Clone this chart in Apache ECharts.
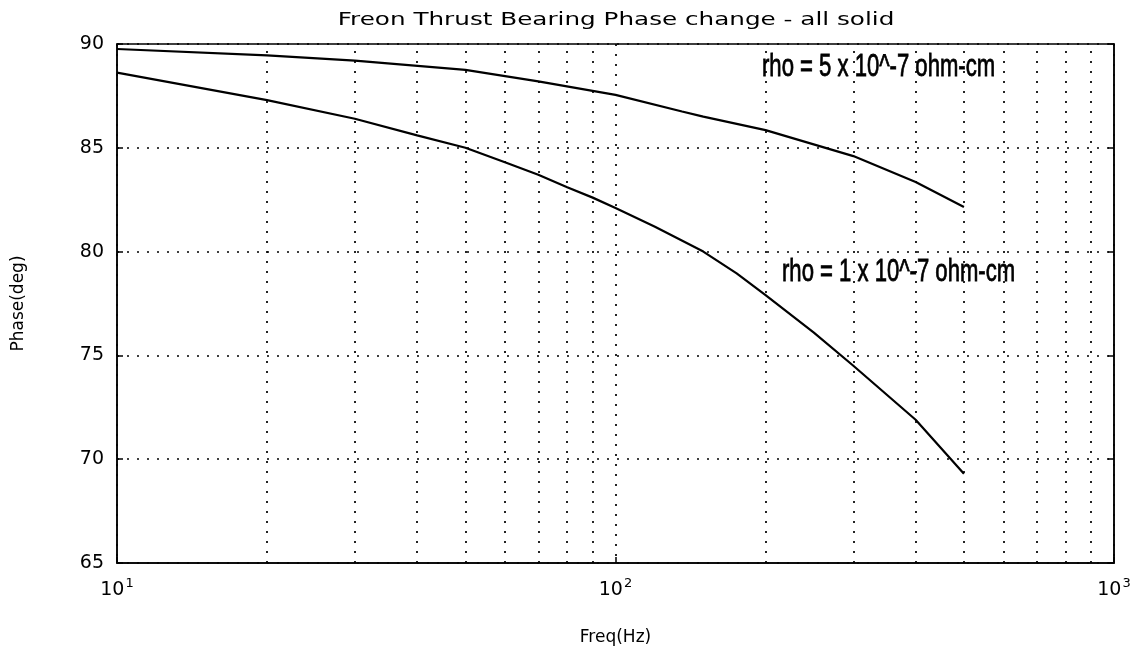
<!DOCTYPE html>
<html>
<head>
<meta charset="utf-8">
<script src="https://cdn.jsdelivr.net/npm/echarts@6/dist/echarts.min.js"></script>
<style>
  html, body { margin: 0; padding: 0; background: #fff; }
  #chart { width: 1135px; height: 647px; }
</style>
</head>
<body>
<div id="chart"></div>
<script>
// 频率 (Hz) 与相位 (deg)
const freqHigh = [10, 20, 30, 50, 70, 100, 136, 150, 200, 300, 400, 500]
const phaseHigh = [89.76, 89.45, 89.2, 88.75, 88.2, 87.55, 86.75, 86.5, 85.85, 84.6, 83.35, 82.15]

const freqLow = [10, 20, 30, 40, 50, 60, 70, 80, 90, 100, 120, 150, 175, 200, 250, 300, 400, 500]
const phaseLow = [88.62, 87.3, 86.4, 85.6, 85.0, 84.3, 83.7, 83.1, 82.6, 82.1, 81.2, 80.0, 78.95, 77.9, 76.1, 74.5, 71.9, 69.3]

// 次网格线位置
const minorGrid = [20, 30, 40, 50, 60, 70, 80, 90, 200, 300, 400, 500, 600, 700, 800, 900]

const labelHigh = 'rho = 5 x 10^-7 ohm-cm'
const labelLow = 'rho = 1 x 10^-7 ohm-cm'
const titleText = 'Freon Thrust Bearing Phase change - all solid'

const dotted = { color: '#000', width: 1.7, type: [2, 8] }
const supers = { 1: '1', 2: '2', 3: '3' }

const chart = echarts.init(document.getElementById('chart'))

const option = {
  backgroundColor: '#fff',
  animation: false,
  grid: {
    left: 117, right: 21, top: 44, bottom: 84,
    outerBoundsMode: 'none',
    show: true, borderColor: '#000', borderWidth: 1.5
  },
  xAxis: {
    type: 'log',
    logBase: 10,
    min: 10,
    max: 1000,
    name: 'Freq(Hz)',
    nameLocation: 'middle',
    nameGap: 66,
    nameTextStyle: { color: '#000', fontSize: 17, fontFamily: 'DejaVu Sans' },
    axisLine: { show: true, lineStyle: { color: '#000', width: 1.5 } },
    axisTick: { show: true, inside: true, length: 6, lineStyle: { color: '#000', width: 1.5 } },
    splitLine: { show: true, lineStyle: dotted },
    axisLabel: {
      margin: 12,
      formatter: v => {
        const e = Math.round(Math.log10(v))
        return '{b|10}{s|' + (supers[e] || e) + '}'
      },
      rich: {
        b: { fontSize: 19, fontFamily: 'DejaVu Sans', color: '#000', padding: [6, 0, 0, 0] },
        s: { fontSize: 13, fontFamily: 'DejaVu Sans', color: '#000', padding: [0, 0, 8, 1] }
      }
    }
  },
  yAxis: [{
    type: 'value',
    min: 65,
    max: 90,
    interval: 5,
    name: 'Phase(deg)',
    nameLocation: 'middle',
    nameGap: 90,
    nameTextStyle: { color: '#000', fontSize: 17, fontFamily: 'DejaVu Sans' },
    axisLine: { show: true, lineStyle: { color: '#000', width: 1.5 } },
    axisTick: { show: true, inside: true, length: 6, lineStyle: { color: '#000', width: 1.5 } },
    splitLine: { show: true, lineStyle: dotted },
    axisLabel: { color: '#000', fontSize: 19, fontFamily: 'DejaVu Sans', margin: 13 }
  }, {
    type: 'value',
    position: 'right',
    min: 65,
    max: 90,
    interval: 5,
    axisLine: { show: true, lineStyle: { color: '#000', width: 1.5 } },
    axisTick: { show: true, inside: true, length: 6, lineStyle: { color: '#000', width: 1.5 } },
    splitLine: { show: false },
    axisLabel: { show: false }
  }],
  series: [{
    type: 'line',
    data: freqHigh.map((f, i) => [f, phaseHigh[i]]),
    showSymbol: false,
    lineStyle: { color: '#000', width: 2.2 },
    z: 5,
    markLine: {
      silent: true,
      symbol: 'none',
      label: { show: false },
      lineStyle: dotted,
      data: minorGrid.map(f => ({ xAxis: f }))
    }
  }, {
    type: 'line',
    data: freqLow.map((f, i) => [f, phaseLow[i]]),
    showSymbol: false,
    lineStyle: { color: '#000', width: 2.2 },
    z: 5
  }],
  graphic: [{
    type: 'text',
    x: 616, y: 20,
    scaleX: 1.37,
    style: {
      text: titleText, fill: '#000', fontSize: 18, fontFamily: 'DejaVu Sans',
      textAlign: 'center', textVerticalAlign: 'middle'
    }
  }, {
    type: 'text',
    x: 762, y: 67,
    scaleX: 0.69,
    style: {
      text: labelHigh, fill: '#000', fontSize: 32, fontFamily: 'Liberation Sans',
      stroke: '#000', lineWidth: 0.8,
      textAlign: 'left', textVerticalAlign: 'middle'
    }
  }, {
    type: 'text',
    x: 782, y: 272,
    scaleX: 0.69,
    style: {
      text: labelLow, fill: '#000', fontSize: 32, fontFamily: 'Liberation Sans',
      stroke: '#000', lineWidth: 0.8,
      textAlign: 'left', textVerticalAlign: 'middle'
    }
  }]
}

chart.setOption(option)
</script>
</body>
</html>
